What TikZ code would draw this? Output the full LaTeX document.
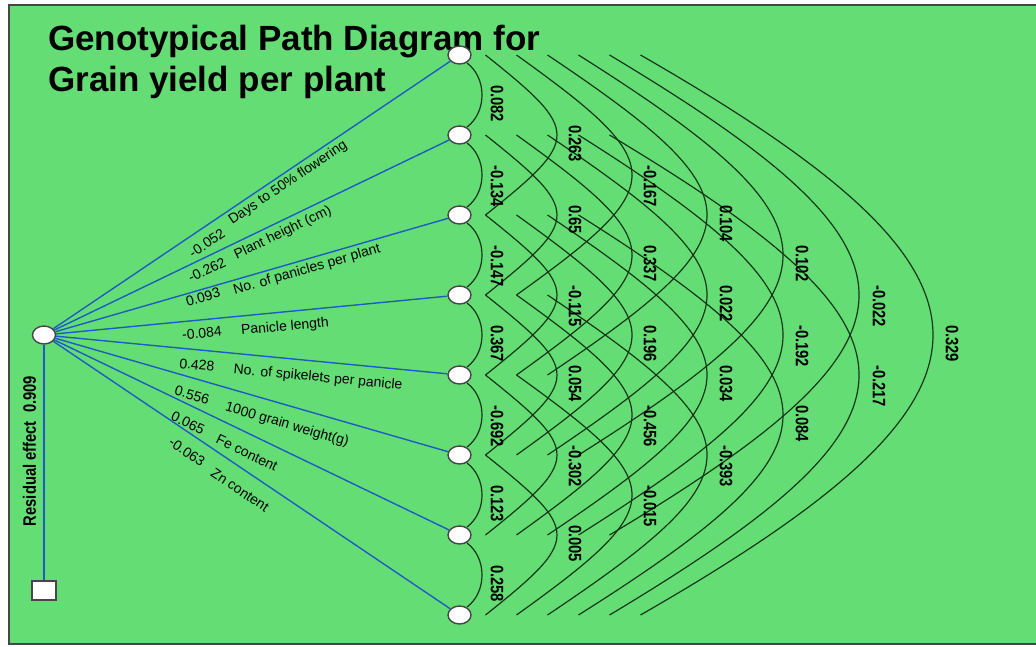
\documentclass[tikz,border=0pt]{standalone}
\usepackage{fontspec}
\setmainfont{Liberation Sans}
\newfontfamily\numfont[FakeStretch=0.82]{Liberation Sans}
\usetikzlibrary{shapes.geometric,calc}
\definecolor{bggreen}{RGB}{100,222,116}
\definecolor{pathblue}{RGB}{28,92,196}
\definecolor{arcdark}{RGB}{20,55,25}
\definecolor{framegray}{RGB}{70,70,70}
\begin{document}
\begin{tikzpicture}[x=1pt,y=-1pt,
  var/.style={ellipse,draw=framegray,fill=white,line width=1.4pt,minimum width=23pt,minimum height=18pt,inner sep=0pt},
  resid/.style={rectangle,draw=framegray,fill=white,line width=1.4pt,minimum width=24pt,minimum height=19pt,inner sep=0pt},
  pathline/.style={draw=pathblue,line width=1.4pt},
  corr/.style={draw=arcdark,line width=1.2pt},
  numtxt/.style={font=\numfont\bfseries\fontsize{18}{20}\selectfont,inner sep=0pt},
  coef/.style={numtxt,rotate=-90,anchor=west},
  lab/.style={font=\fontsize{14}{16}\selectfont,inner sep=0pt},
  title/.style={font=\bfseries\fontsize{35}{40}\selectfont,inner sep=0pt,anchor=base west}]
\useasboundingbox (0,0) rectangle (1036,646);
\fill[white] (0,0) rectangle (1036,646);
\fill[bggreen] (9,5) rectangle (1036,644);
\draw[framegray,line width=1.2pt] (1036,5) -- (9,5) -- (9,644) -- (1036,644);
% title
\node[title] (t1) at (48,50) {Genotypical Path Diagram for};
\node[title] (t2) at (48,91) {Grain yield per plant};
% nodes
\node[var] (L) at (44,335) {};
\node[resid] (R) at (44,590.5) {};
\foreach \i in {1,...,8} \node[var] (n\i) at (459.5,{55+80*(\i-1)}) {};
% direct paths
\foreach \i in {1,...,8} \draw[pathline] (L) -- (n\i);
\draw[pathline] (L) -- (R);
\node[numtxt,rotate=90] (rl) at (29.5,451) {Residual effect\ \ 0.909};
% path labels
\foreach \v/\vx/\vy/\nm/\nx/\ny/\a [count=\k] in {
  -0.052/207/243/Days to 50\% flowering/288/183/34,
  -0.262/207/270/Plant height (cm)/283/233/25.7,
  0.093/203/297/No. of panicles per plant/307/270/16.1,
  -0.084/202/333/Panicle length/285/327/5.5,
  0.428/197/365/No. of spikelets per panicle/318/378/-5.5,
  0.556/192/395/1000 grain weight(g)/287/425/-16.1,
  0.065/188/423/Fe content/247/453/-25.7,
  -0.063/187/452/Zn content/240/490/-34} {
  \node[lab,rotate=\a] (v\k) at (\vx,\vy) {\v};
  \node[lab,rotate=\a] (m\k) at (\nx,\ny) {\nm};
}
% adjacent correlations
\foreach \i in {1,...,7} {
  \pgfmathtruncatemacro\j{\i+1}
  \draw[corr] ($(n\i)+(7.5,8)$) .. controls ($(n\i)+(27.5,23)$) and ($(n\j)+(27.5,-23)$) .. ($(n\j)+(7.5,-8)$);
}
% wider correlations
\foreach \d/\s/\c/\v in {2/26/121.3/76, 3/57/211/110.4, 4/88/300.7/142.4, 5/119/391.7/172, 6/150/482.7/199.2, 7/181/571/224} {
  \pgfmathtruncatemacro\last{8-\d}
  \foreach \i in {1,...,\last} {
    \pgfmathtruncatemacro\j{\i+\d}
    \coordinate (s\i-\j) at ($(n\i)+(\s,0)$);
    \coordinate (e\i-\j) at ($(n\j)+(\s,0)$);
    \draw[corr] (s\i-\j) .. controls ($(n\i)+(\c,\v)$) and ($(n\j)+(\c,-\v)$) .. (e\i-\j);
  }
}
% correlation values
\foreach \d/\lx/\vals in {
  1/497/{0.082,-0.134,-0.147,0.367,-0.692,0.123,0.258},
  2/575/{0.263,0.65,-0.115,0.054,-0.302,0.005},
  3/650/{-0.167,0.337,0.196,-0.456,-0.015},
  4/726/{0.104,0.022,0.034,-0.393},
  5/802/{0.102,-0.192,0.084},
  6/879/{-0.022,-0.217},
  7/952/{0.329}} {
  \foreach \w [count=\i] in \vals {
    \node[coef] (c\d-\i) at (\lx,{55+80*(\i-1)+40*\d-10}) {\w};
  }
}
\end{tikzpicture}
\end{document}
